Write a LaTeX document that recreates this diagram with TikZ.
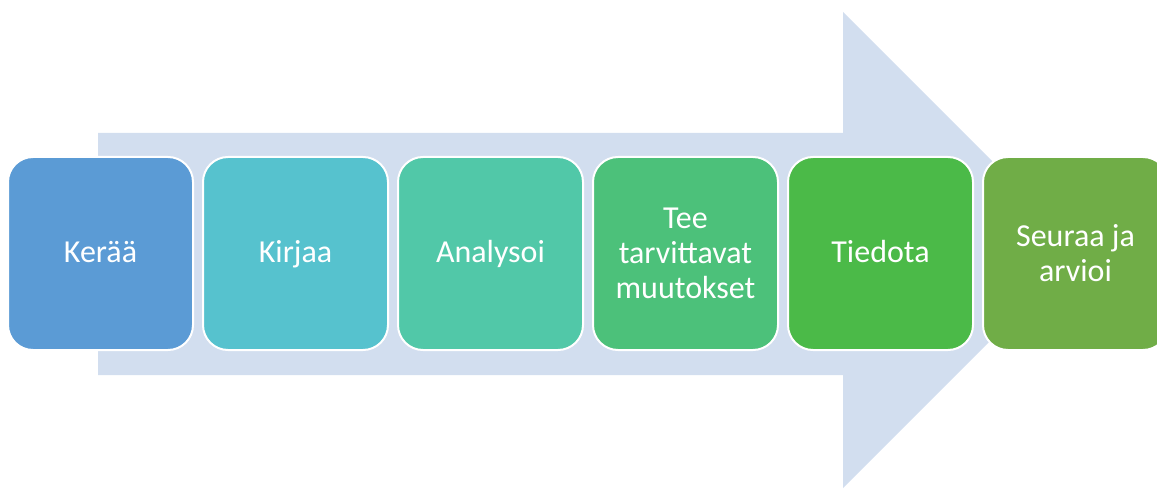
\documentclass[tikz,border=0pt]{standalone}
\usepackage{fontspec}
\setmainfont{Carlito}
\usepackage{tikz}
\usetikzlibrary{calc, backgrounds}

\definecolor{arrowblue}{HTML}{D2DEEF}
\definecolor{stepone}{HTML}{5B9BD5}
\definecolor{steptwo}{HTML}{56C2CE}
\definecolor{stepthree}{HTML}{51C8A8}
\definecolor{stepfour}{HTML}{4CC17A}
\definecolor{stepfive}{HTML}{4BBA48}
\definecolor{stepsix}{HTML}{70AD47}

\tikzset{
  stepbox/.style={draw=white, line width=2pt, rounded corners=25pt,
    minimum width=185pt, minimum height=193pt, align=center,
    text=white, font=\fontsize{32}{35}\selectfont},
  oneline/.style={text height=19pt, text depth=0pt}
}

\begin{document}
\begin{tikzpicture}[x=1pt, y=-1pt]
          \useasboundingbox (0,0) rectangle (1157,489);

          % big arrow behind the steps
          \fill [arrowblue] (98,133) -- (843,133) -- (843,12) -- (1081,250)
                -- (843,488) -- (843,375) -- (98,375) -- cycle;

          \node [stepbox, oneline, fill=stepone] (keraa) at (100.5,253.5) {Kerää};
          \node [stepbox, oneline, fill=steptwo] (kirjaa) at (295.5,253.5) {Kirjaa};
          \node [stepbox, oneline, fill=stepthree] (analysoi) at (490.5,253.5) {Analysoi};
          \node [stepbox, fill=stepfour] (muutokset) at (685.5,253.5) {Tee\\tarvittavat\\muutokset};
          \node [stepbox, oneline, fill=stepfive] (tiedota) at (880.5,253.5) {Tiedota};
          \node [stepbox, fill=stepsix] (arvioi) at (1075.5,253.5) {Seuraa ja\\arvioi};
\end{tikzpicture}
\end{document}
